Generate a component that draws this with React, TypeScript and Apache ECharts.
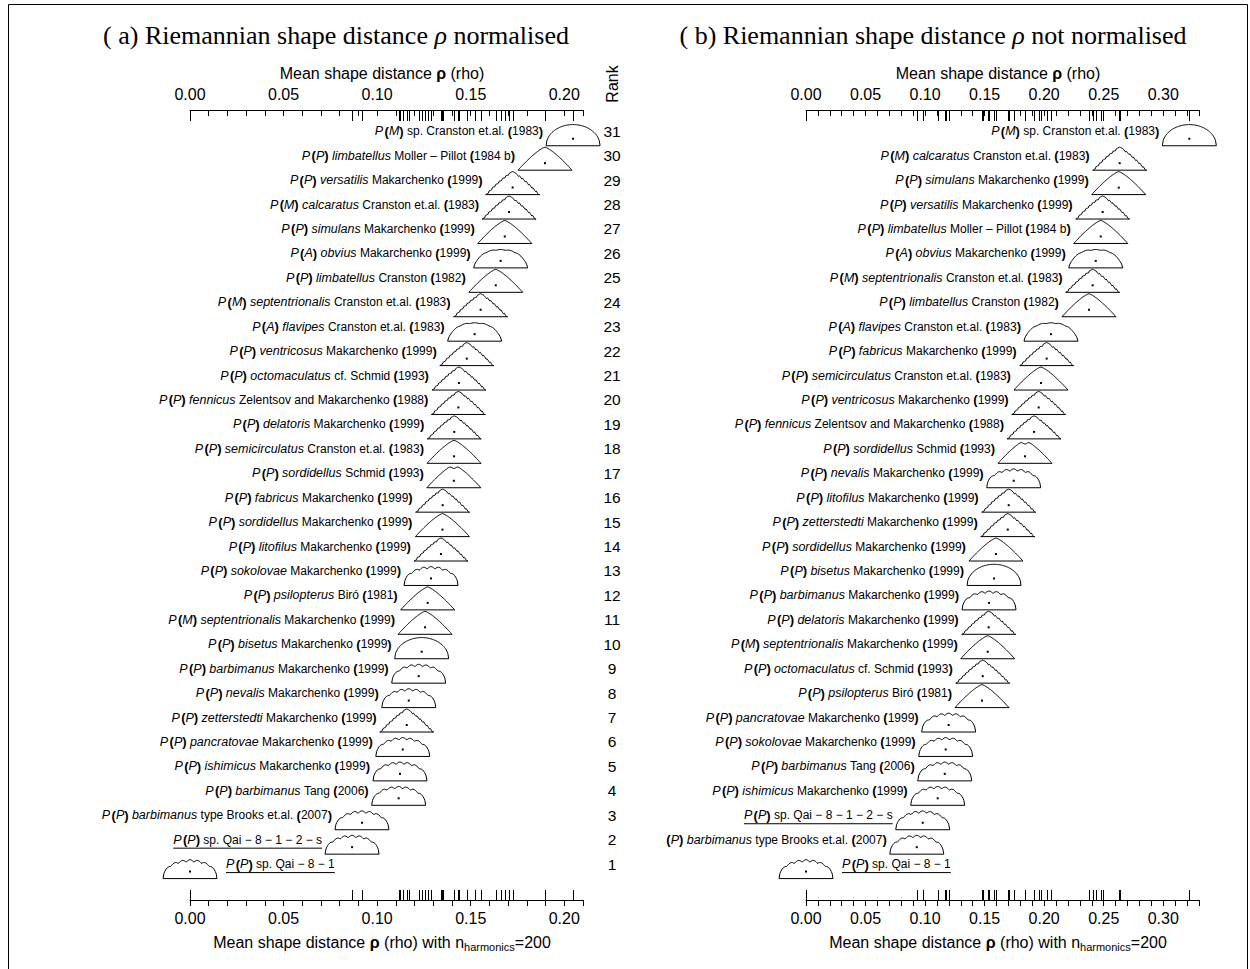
import React, { useEffect, useRef } from "react";
import * as echarts from "echarts";

const FONT = "'Liberation Sans', Arial, Helvetica, sans-serif";
const SERIF = "'Liberation Serif', 'Times New Roman', serif";

// ranks, top row first
const ranks = [31, 30, 29, 28, 27, 26, 25, 24, 23, 22, 21, 20, 19, 18, 17, 16, 15, 14, 13, 12, 11, 10, 9, 8, 7, 6, 5, 4, 3, 2, 1];

// Panel (a): normalised
const labelsA = [
  "P(M) sp. Cranston et.al. (1983)",
  "P(P) *limbatellus* Moller – Pillot (1984 b)",
  "P(P) *versatilis* Makarchenko (1999)",
  "P(M) *calcaratus* Cranston et.al. (1983)",
  "P(P) *simulans* Makarchenko (1999)",
  "P(A) *obvius* Makarchenko (1999)",
  "P(P) *limbatellus* Cranston (1982)",
  "P(M) *septentrionalis* Cranston et.al. (1983)",
  "P(A) *flavipes* Cranston et.al. (1983)",
  "P(P) *ventricosus* Makarchenko (1999)",
  "P(P) *octomaculatus* cf. Schmid (1993)",
  "P(P) *fennicus* Zelentsov and Makarchenko (1988)",
  "P(P) *delatoris* Makarchenko (1999)",
  "P(P) *semicirculatus* Cranston et.al. (1983)",
  "P(P) *sordidellus* Schmid (1993)",
  "P(P) *fabricus* Makarchenko (1999)",
  "P(P) *sordidellus* Makarchenko (1999)",
  "P(P) *litofilus* Makarchenko (1999)",
  "P(P) *sokolovae* Makarchenko (1999)",
  "P(P) *psilopterus* Biró (1981)",
  "P(M) *septentrionalis* Makarchenko (1999)",
  "P(P) *bisetus* Makarchenko (1999)",
  "P(P) *barbimanus* Makarchenko (1999)",
  "P(P) *nevalis* Makarchenko (1999)",
  "P(P) *zetterstedti* Makarchenko (1999)",
  "P(P) *pancratovae* Makarchenko (1999)",
  "P(P) *ishimicus* Makarchenko (1999)",
  "P(P) *barbimanus* Tang (2006)",
  "P(P) *barbimanus* type Brooks et.al. (2007)",
  "P(P) sp. Qai − 8 − 1 − 2 − s",
  "P(P) sp. Qai − 8 − 1",
];
const valuesA = [0.2047, 0.1897, 0.1724, 0.1705, 0.1682, 0.166, 0.1634, 0.1553, 0.1521, 0.1479, 0.1437, 0.1434, 0.1412, 0.1411, 0.141, 0.135, 0.1349, 0.1341, 0.1288, 0.127, 0.1256, 0.1238, 0.1222, 0.1169, 0.1158, 0.1137, 0.1122, 0.1115, 0.0919, 0.0866, 0.0];
const shapesA = ["dome", "peak", "jag", "jag", "peak", "flat", "peak", "jag", "flat", "jag", "jag", "jag", "jag", "peak", "notch", "jag", "peak", "jag", "bumpy", "peak", "peak", "dome", "bumpy", "bumpy", "jag", "bumpy", "bumpy", "bumpy", "bumpy", "bumpy", "bumpy"];

// Panel (b): not normalised
const labelsB = [
  "P(M) sp. Cranston et.al. (1983)",
  "P(M) *calcaratus* Cranston et.al. (1983)",
  "P(P) *simulans* Makarchenko (1999)",
  "P(P) *versatilis* Makarchenko (1999)",
  "P(P) *limbatellus* Moller – Pillot (1984 b)",
  "P(A) *obvius* Makarchenko (1999)",
  "P(M) *septentrionalis* Cranston et.al. (1983)",
  "P(P) *limbatellus* Cranston (1982)",
  "P(A) *flavipes* Cranston et.al. (1983)",
  "P(P) *fabricus* Makarchenko (1999)",
  "P(P) *semicirculatus* Cranston et.al. (1983)",
  "P(P) *ventricosus* Makarchenko (1999)",
  "P(P) *fennicus* Zelentsov and Makarchenko (1988)",
  "P(P) *sordidellus* Schmid (1993)",
  "P(P) *nevalis* Makarchenko (1999)",
  "P(P) *litofilus* Makarchenko (1999)",
  "P(P) *zetterstedti* Makarchenko (1999)",
  "P(P) *sordidellus* Makarchenko (1999)",
  "P(P) *bisetus* Makarchenko (1999)",
  "P(P) *barbimanus* Makarchenko (1999)",
  "P(P) *delatoris* Makarchenko (1999)",
  "P(M) *septentrionalis* Makarchenko (1999)",
  "P(P) *octomaculatus* cf. Schmid (1993)",
  "P(P) *psilopterus* Biró (1981)",
  "P(P) *pancratovae* Makarchenko (1999)",
  "P(P) *sokolovae* Makarchenko (1999)",
  "P(P) *barbimanus* Tang (2006)",
  "P(P) *ishimicus* Makarchenko (1999)",
  "P(P) sp. Qai − 8 − 1 − 2 − s",
  "(P) *barbimanus* type Brooks et.al. (2007)",
  "P(P) sp. Qai − 8 − 1",
];
const valuesB = [0.3219, 0.2634, 0.2626, 0.2491, 0.2475, 0.2433, 0.2407, 0.2376, 0.2057, 0.2021, 0.1973, 0.1954, 0.1915, 0.1839, 0.1744, 0.1702, 0.1694, 0.1595, 0.1579, 0.1537, 0.1534, 0.1526, 0.1484, 0.1478, 0.1198, 0.1173, 0.1165, 0.1106, 0.098, 0.093, 0.0];
const shapesB = ["dome", "jag", "peak", "jag", "peak", "flat", "jag", "peak", "flat", "jag", "peak", "jag", "jag", "notch", "bumpy", "jag", "jag", "peak", "dome", "bumpy", "jag", "peak", "jag", "peak", "bumpy", "bumpy", "bumpy", "bumpy", "bumpy", "bumpy", "bumpy"];

const maxA = 0.21;
const maxB = 0.33;

// ---------- glyph outline templates (unit coords) ----------
function profile(kind: string): number[][] {
  const N = 64;
  const pts: number[][] = [];
  for (let k = 0; k <= N; k++) {
    const u = -1 + (2 * k) / N;
    const a = Math.abs(u);
    let h = 0;
    if (kind === "dome") h = Math.pow(Math.max(0, 1 - u * u), 0.5) * 0.92;
    else if (kind === "flat") h = Math.pow(Math.max(0, 1 - Math.pow(a, 2.6)), 0.7) * 0.8 * (0.96 + 0.04 * Math.abs(Math.cos(u * 9)));
    else if (kind === "peak") h = 1 - Math.pow(a, 1.3);
    else if (kind === "jag") {
      h = 1 - Math.pow(a, 1.25);
      const f = (u * 8 + 8) % 1;
      if (a > 0.15) h -= 0.08 * f;
    } else if (kind === "notch") h = 1 - Math.pow(a, 1.3) - 0.16 * Math.exp(-Math.pow(u / 0.1, 2));
    else h = Math.pow(Math.max(0, 1 - u * u), 0.45) * 0.82 * (0.88 + 0.12 * Math.abs(Math.cos(u * Math.PI * 3.5)));
    if (k === 0 || k === N) h = 0;
    pts.push([u, Math.max(0, h)]);
  }
  return pts;
}
const PROFILES: Record<string, number[][]> = {};
["dome", "flat", "peak", "jag", "notch", "bumpy"].forEach((k) => (PROFILES[k] = profile(k)));

// ---------- label rich text ----------
const LF = 12;
const FONTS: Record<string, string> = {
  n: `${LF}px ${FONT}`,
  i: `italic ${LF + 0.5}px ${FONT}`,
  p: `bold ${LF + 1}px ${FONT}`,
  t: `5px ${FONT}`,
};
const RICH = {
  n: { fontSize: LF, fontFamily: FONT, fill: "#000" },
  i: { fontSize: LF + 0.5, fontFamily: FONT, fontStyle: "italic", fill: "#000" },
  p: { fontSize: LF + 1, fontFamily: FONT, fontWeight: "bold", fill: "#000" },
  t: { fontSize: 5, fontFamily: FONT, fill: "#000" },
};
let measureCtx: CanvasRenderingContext2D | null = null;
function measure(style: string, text: string) {
  if (!measureCtx) measureCtx = document.createElement("canvas").getContext("2d");
  measureCtx!.font = FONTS[style];
  return measureCtx!.measureText(text).width;
}
function parseLabel(label: string): [string, string][] {
  const segs: [string, string][] = [];
  let rest = label;
  const m = /^(P?)\(([A-Z])\)\s*/.exec(label);
  if (m) {
    if (m[1]) {
      segs.push(["i", "P"]);
      segs.push(["t", " "]);
    }
    segs.push(["p", "("], ["i", m[2]], ["p", ")"], ["n", " "]);
    rest = label.slice(m[0].length);
  }
  const re = /\*([^*]+)\*|[()]|[^*()]+/g;
  let mm: RegExpExecArray | null;
  while ((mm = re.exec(rest))) {
    if (mm[1]) segs.push(["i", mm[1]]);
    else if (mm[0] === "(" || mm[0] === ")") segs.push(["p", mm[0]]);
    else segs.push(["n", mm[0]]);
  }
  return segs;
}
function richOf(segs: [string, string][]) {
  return segs.map(([s, t]) => `{${s}|${t}}`).join("");
}
function widthOf(segs: [string, string][]) {
  return segs.reduce((w, [s, t]) => w + measure(s, t), 0);
}

function makeRenderer(labels: string[], shapes: string[], showRank: boolean) {
  return (params: any, api: any) => {
    const i = params.dataIndex;
    const v = api.value(0);
    const r = api.value(1);
    const pt = api.coord([v, r]);
    const cx = pt[0];
    const cy = pt[1];
    const dotY = cy + 7.5;
    const baseY = dotY + 7;
    const prof = PROFILES[shapes[i]] || PROFILES.bumpy;
    const pts = prof.map(([u, h]) => [cx + u * 27, baseY - h * 23]);
    const children: any[] = [
      { type: "polygon", shape: { points: pts }, style: { fill: "none", stroke: "#000", lineWidth: 1 } },
      { type: "rect", shape: { x: cx - 1, y: dotY - 1, width: 2, height: 2 }, style: { fill: "#000" } },
    ];
    const label = labels[i];
    const segs = parseLabel(label);
    const onRight = v === 0;
    const tx = onRight ? cx + 36 : cx - 30;
    children.push({
      type: "text",
      style: {
        text: richOf(segs),
        x: tx,
        y: cy,
        align: onRight ? "left" : "right",
        verticalAlign: "middle",
        fontSize: LF,
        fontFamily: FONT,
        fill: "#000",
        rich: RICH,
      },
    });
    if (label.indexOf("Qai") >= 0) {
      const w = widthOf(segs);
      const x0 = onRight ? tx : tx - w;
      children.push({
        type: "line",
        shape: { x1: x0, y1: cy + 8.5, x2: x0 + w, y2: cy + 8.5 },
        style: { stroke: "#000", lineWidth: 1 },
      });
    }
    if (showRank) {
      const cs = params.coordSys;
      children.push({
        type: "text",
        style: {
          text: String(r),
          x: cs.x + cs.width + 29,
          y: cy,
          align: "center",
          verticalAlign: "middle",
          fontSize: 15.5,
          fontFamily: FONT,
          fill: "#000",
        },
      });
    }
    return { type: "group", children };
  };
}

function rugRenderer(params: any, api: any) {
  const v = api.value(0);
  const cs = params.coordSys;
  const x = Math.round(api.coord([v, 0])[0]) + 0.5;
  const top = cs.y;
  const bot = cs.y + cs.height;
  return {
    type: "group",
    children: [
      { type: "line", shape: { x1: x, y1: top, x2: x, y2: top + 11 }, style: { stroke: "#000", lineWidth: 1 } },
      { type: "line", shape: { x1: x, y1: bot, x2: x, y2: bot - 10 }, style: { stroke: "#000", lineWidth: 1 } },
    ],
  };
}

const fmt = (v: number) => {
  const q = v / 0.05;
  return Math.abs(q - Math.round(q)) < 1e-6 ? v.toFixed(2) : "";
};

function xAxis(gridIndex: number, max: number, position: "top" | "bottom") {
  return {
    gridIndex,
    type: "value",
    position,
    min: 0,
    max,
    interval: 0.01,
    axisLine: { show: true, onZero: false, lineStyle: { color: "#000", width: 1 } },
    axisTick: { show: true, inside: position === "top", length: 6, lineStyle: { color: "#000", width: 1 } },
    axisLabel: {
      interval: 0,
      margin: position === "top" ? 8 : 10,
      fontSize: 16,
      fontFamily: FONT,
      color: "#000",
      formatter: fmt,
    },
    splitLine: { show: false },
  };
}

const TITLE_RICH = {
  i: { fontStyle: "italic", fontSize: 26, fontFamily: SERIF, fill: "#000" },
};
const AXT_RICH = {
  n: { fontSize: 16, fontFamily: FONT, fill: "#000", lineHeight: 20 },
  b: { fontSize: 16, fontFamily: FONT, fontWeight: "bold", fill: "#000", lineHeight: 20 },
  s: { fontSize: 11, fontFamily: FONT, fill: "#000", lineHeight: 11, verticalAlign: "bottom" },
};

export default function App() {
  const ref = useRef<HTMLDivElement>(null);
  useEffect(() => {
    if (!ref.current) return;
    const chart = echarts.init(ref.current, null, { renderer: "svg" });
    const dataA = valuesA.map((v, i) => [v, ranks[i]]);
    const dataB = valuesB.map((v, i) => [v, ranks[i]]);
    const yAx = (g: number) => ({ gridIndex: g, type: "value", min: -0.47, max: 31.87, show: false });
    const topTitle = "{n|Mean shape distance }{b|ρ}{n| (rho)}";
    const botTitle = "{n|Mean shape distance }{b|ρ}{n| (rho) with n}{s|harmonics}{n|=200}";
    const option: any = {
      animation: false,
      backgroundColor: "#fff",
      grid: [
        { left: 190, width: 393, top: 110, height: 790 },
        { left: 806, width: 393, top: 110, height: 790 },
      ],
      xAxis: [xAxis(0, maxA, "top"), xAxis(0, maxA, "bottom"), xAxis(1, maxB, "top"), xAxis(1, maxB, "bottom")],
      yAxis: [yAx(0), yAx(1)],
      series: [
        { type: "custom", xAxisIndex: 0, yAxisIndex: 0, data: dataA, renderItem: makeRenderer(labelsA, shapesA, true), silent: true },
        { type: "custom", xAxisIndex: 0, yAxisIndex: 0, data: dataA, renderItem: rugRenderer, silent: true },
        { type: "custom", xAxisIndex: 2, yAxisIndex: 1, data: dataB, renderItem: makeRenderer(labelsB, shapesB, false), silent: true },
        { type: "custom", xAxisIndex: 2, yAxisIndex: 1, data: dataB, renderItem: rugRenderer, silent: true },
      ],
      graphic: [
        { type: "rect", shape: { x: 8.5, y: 4.5, width: 1239, height: 1000 }, style: { fill: "none", stroke: "#000", lineWidth: 1 }, silent: true },
        {
          type: "text", x: 336, y: 35,
          style: { text: "( a) Riemannian shape distance {i|ρ} normalised", align: "center", verticalAlign: "middle", fontSize: 26, fontFamily: SERIF, fill: "#000", rich: TITLE_RICH },
        },
        {
          type: "text", x: 933, y: 35,
          style: { text: "( b) Riemannian shape distance {i|ρ} not normalised", align: "center", verticalAlign: "middle", fontSize: 26, fontFamily: SERIF, fill: "#000", rich: TITLE_RICH },
        },
        { type: "text", x: 382, y: 73, style: { text: topTitle, align: "center", verticalAlign: "middle", rich: AXT_RICH, fill: "#000" } },
        { type: "text", x: 998, y: 73, style: { text: topTitle, align: "center", verticalAlign: "middle", rich: AXT_RICH, fill: "#000" } },
        { type: "text", x: 382, y: 942, style: { text: botTitle, align: "center", verticalAlign: "middle", rich: AXT_RICH, fill: "#000" } },
        { type: "text", x: 998, y: 942, style: { text: botTitle, align: "center", verticalAlign: "middle", rich: AXT_RICH, fill: "#000" } },
        {
          type: "text", x: 612, y: 84, rotation: Math.PI / 2,
          style: { text: "Rank", align: "center", verticalAlign: "middle", fontSize: 16, fontFamily: FONT, fill: "#000" },
        },
      ],
    };
    chart.setOption(option);
    return () => chart.dispose();
  }, []);
  return <div ref={ref} style={{ position: "fixed", left: 0, top: 0, width: 1250, height: 969 }} />;
}
